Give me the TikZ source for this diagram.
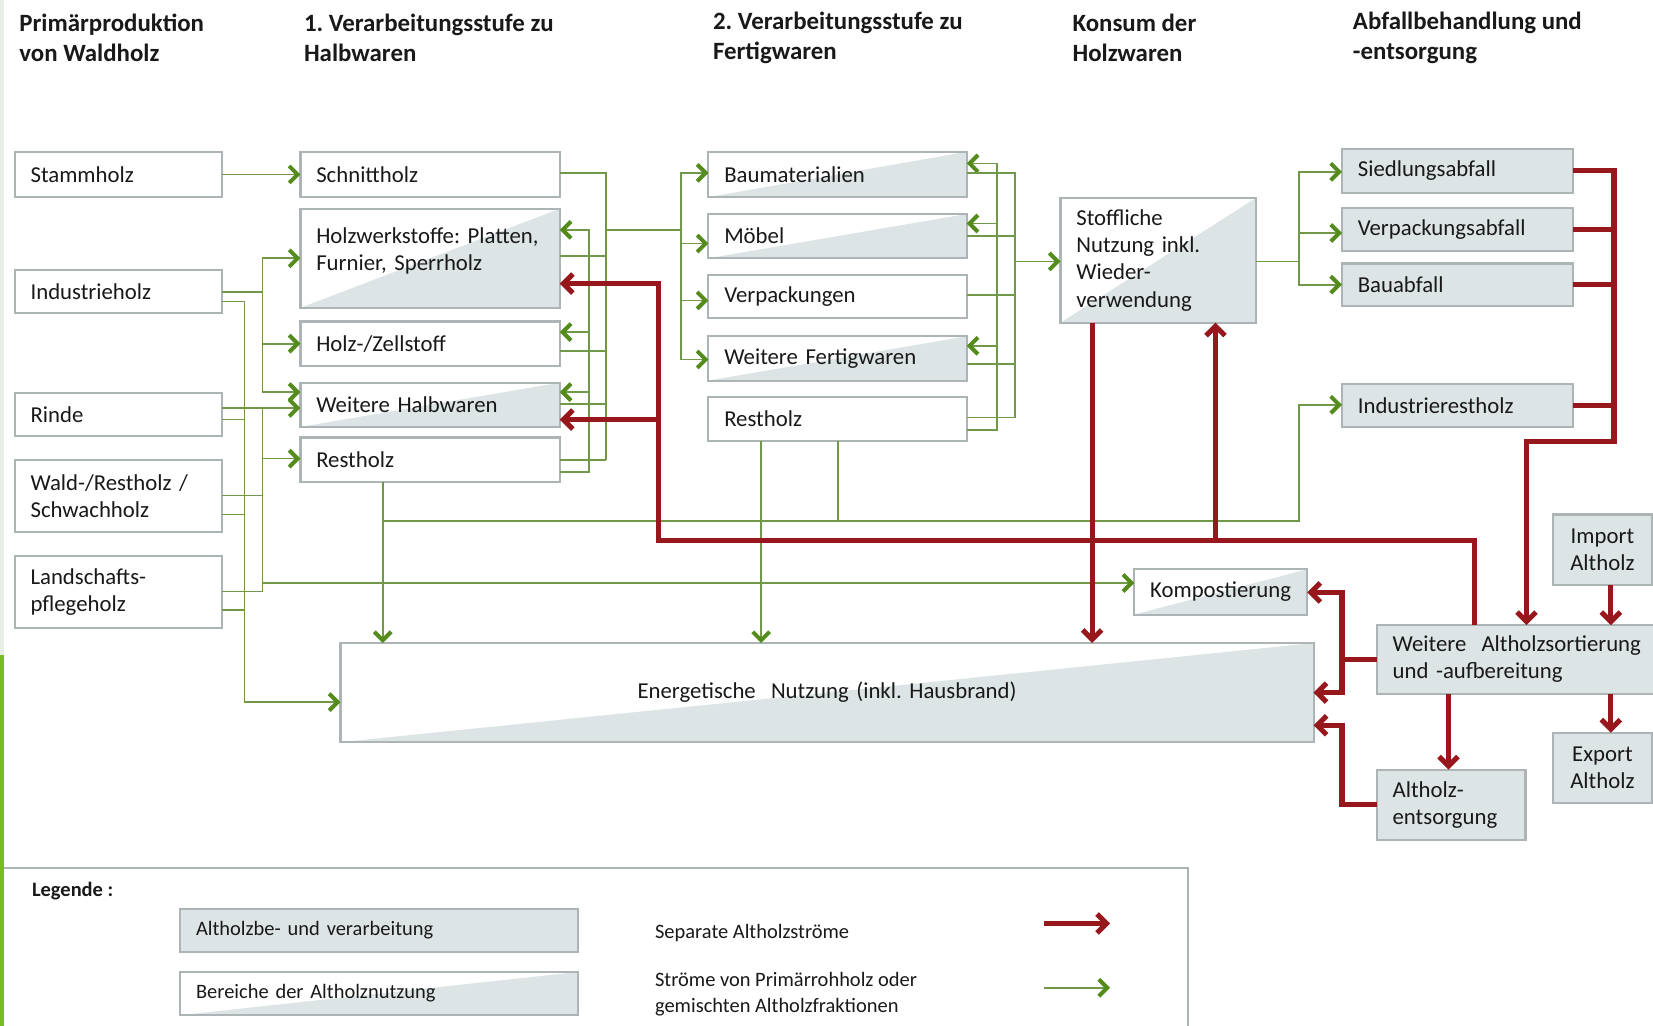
\documentclass[tikz,border=0pt]{standalone}
\usepackage{fontspec}
\setmainfont{Carlito}
\usetikzlibrary{arrows.meta}
\frenchspacing
\definecolor{gline}{RGB}{112,152,72}
\definecolor{ghead}{RGB}{84,140,28}
\definecolor{rline}{RGB}{150,24,28}
\definecolor{boxgrey}{RGB}{221,228,229}
\definecolor{bord}{RGB}{172,180,182}
\definecolor{txt}{RGB}{25,25,25}
\definecolor{limebar}{RGB}{120,190,30}
\definecolor{palebar}{RGB}{232,238,232}
\tikzset{
  base/.style={draw=bord, line width=1pt, fill=white, anchor=north west, align=left,
    inner xsep=7.5pt, inner ysep=2pt, outer sep=0pt, text=txt,
    font=\fontsize{10.8}{12.9}\selectfont},
  greybox/.style={base, fill=boxgrey},
  tribox/.style={base, path picture={\fill[boxgrey] (path picture bounding box.south west)
      -- (path picture bounding box.north east) -- (path picture bounding box.south east) -- cycle;}},
  sz/.style n args={3}{minimum width=#1, text width=#2, minimum height=#3},
  hdr/.style={anchor=west, align=left, inner sep=0pt, text=txt,
    font=\bfseries\fontsize{11.8}{14.5}\selectfont},
  legfont/.style={font=\fontsize{9.7}{12}\selectfont},
  legtext/.style={anchor=west, align=left, inner sep=0pt, text=txt, legfont},
  gl/.style={draw=gline, line width=0.85pt},
  ga/.style={gl, -{Straight Barb[length=4pt,width=8pt,line width=1.9pt,color=ghead]}},
  rl/.style={draw=rline, line width=2.4pt},
  ra/.style={rl, -{Straight Barb[length=4.5pt,width=9pt,line width=2.4pt]}},
}
\begin{document}
\begin{tikzpicture}[x=0.5pt,y=-0.5pt]
\useasboundingbox (0,0) rectangle (1568,973);
\clip (0,0) rectangle (1568,973);
\fill[white] (0,0) rectangle (1568,973);

% headers
\node[hdr] (h1) at (18,36) {Primärproduktion\\von Waldholz};
\node[hdr] (h2) at (288,36) {1. Verarbeitungsstufe zu\\Halbwaren};
\node[hdr] (h3) at (676,36) {2. Verarbeitungsstufe zu\\Fertigwaren};
\node[hdr] (h4) at (1017,36) {Konsum der\\Holzwaren};
\node[hdr] (h5) at (1283,36) {Abfallbehandlung und\\-entsorgung};

% column 1
\node[base, sz={98.5pt}{83.5pt}{21.5pt}] (stamm) at (14,144) {Stammholz};
\node[base, sz={98.5pt}{83.5pt}{20.5pt}] (indus) at (14,256) {Industrieholz};
\node[base, sz={98.5pt}{83.5pt}{20.5pt}] (rinde) at (14,373) {Rinde};
\node[base, sz={98.5pt}{83.5pt}{34.5pt}] (wald) at (14,436) {Wald-/Restholz /\\Schwachholz};
\node[base, sz={98.5pt}{83.5pt}{34.5pt}] (land) at (14,527) {Landschafts-\\pflegeholz};

% column 2
\node[base, sz={123pt}{108pt}{21.5pt}] (schnitt) at (285,144) {Schnittholz};
\node[tribox, sz={123pt}{108pt}{47pt}] (hws) at (285,198) {Holzwerkstoffe: Platten,\\Furnier, Sperrholz\\[-4pt]\mbox{}};
\node[base, sz={123pt}{108pt}{21pt}] (hzs) at (285,305) {Holz-/Zellstoff};
\node[tribox, sz={123pt}{108pt}{21pt}] (whw) at (285,363) {Weitere Halbwaren};
\node[base, sz={123pt}{108pt}{21pt}] (rest1) at (285,415) {Restholz};

% column 3
\node[tribox, sz={122.5pt}{107.5pt}{21.5pt}] (bau) at (672,144) {Baumaterialien};
\node[tribox, sz={122.5pt}{107.5pt}{21pt}] (moebel) at (672,203) {Möbel};
\node[base, sz={122.5pt}{107.5pt}{20.5pt}] (verp) at (672,261) {Verpackungen};
\node[tribox, sz={122.5pt}{107.5pt}{21pt}] (wfw) at (672,319) {Weitere Fertigwaren};
\node[base, sz={122.5pt}{107.5pt}{20.5pt}] (rest2) at (672,377) {Restholz};

% column 4
\node[tribox, sz={92.5pt}{77.5pt}{59pt}] (stoff) at (1006,188) {Stoffliche\\Nutzung inkl.\\Wieder-\\verwendung};

% column 5
\node[greybox, sz={109.5pt}{94.5pt}{21pt}] (sied) at (1273,141) {Siedlungsabfall};
\node[greybox, sz={109.5pt}{94.5pt}{20.5pt}] (vpa) at (1273,197) {Verpackungsabfall};
\node[greybox, sz={109.5pt}{94.5pt}{20pt}] (bauab) at (1273,250) {Bauabfall};
\node[greybox, sz={109.5pt}{94.5pt}{20.5pt}] (irh) at (1273,364) {Industrierestholz};

% lower right
\node[greybox, align=center, inner xsep=2pt, sz={47pt}{43pt}{33.5pt}] (import) at (1473,488) {Import\\Altholz};
\node[greybox, sz={137pt}{122pt}{32.5pt}] (wasort) at (1306,593) {Weitere~~Altholzsortierung\\und -aufbereitung};
\node[greybox, align=center, inner xsep=2pt, sz={47pt}{43pt}{33.5pt}] (export) at (1473,695) {Export\\Altholz};
\node[greybox, sz={70.5pt}{55.5pt}{33.5pt}] (entsorg) at (1306,730) {Altholz-\\entsorgung};
\node[tribox, sz={82pt}{67pt}{21.5pt}] (kompost) at (1076,540) {Kompostierung};
\node[tribox, align=center, sz={461.5pt}{446.5pt}{47pt}] (energ) at (323,610) {\raisebox{-2pt}{Energetische~~Nutzung (inkl. Hausbrand)}};

% ---------- green connectors ----------
\draw[ga] (stamm) -- (schnitt);
\draw[ga] (indus.east |- 0,277) -| (249,245) -- (hws.west |- 0,245);
\draw[ga] (249,277) |- (hzs.west |- 0,326);
\draw[ga] (249,326) |- (whw.west |- 0,372);
\draw[ga] (rinde.east |- 0,387) -- (whw.west |- 0,387);
\draw[gl] (wald.east |- 0,470) -| (249,387);
\draw[gl] (land.east |- 0,561) -| (249,470);
\draw[ga] (249,435) -- (rest1.west |- 0,435);
\draw[ga] (249,553) -- (kompost.west |- 0,553);
\draw[ga] (indus.east |- 0,286) -| (232,666) -- (energ.west |- 0,666);
\draw[gl] (rinde.east |- 0,398) -- (232,398);
\draw[gl] (wald.east |- 0,488) -- (232,488);
\draw[gl] (land.east |- 0,579) -- (232,579);

% col 2 outputs
\draw[gl] (schnitt.east |- 0,164) -| (575,436);
\draw[gl] (hws.east |- 0,243) -- (575,243);
\draw[gl] (hzs.east |- 0,333) -- (575,333);
\draw[gl] (whw.east |- 0,383) -- (575,383);
\draw[gl] (rest1.east |- 0,436) -- (575,436);
\draw[gl] (575,218) -- (646,218);
\draw[ga] (646,218) |- (bau.west |- 0,164);
\draw[ga] (646,218) |- (moebel.west |- 0,231);
\draw[ga] (646,218) |- (verp.west |- 0,285);
\draw[ga] (646,218) |- (wfw.west |- 0,341);
% col 2 return
\draw[ga] (rest1.east |- 0,448) -| (559,218) -- (hws.east |- 0,218);
\draw[ga] (559,315) -- (hzs.east |- 0,315);
\draw[ga] (559,372) -- (whw.east |- 0,372);

% col 3 return
\draw[ga] (rest2.east |- 0,408) -| (946,155) -- (bau.east |- 0,155);
\draw[ga] (946,212) -- (moebel.east |- 0,212);
\draw[ga] (946,328) -- (wfw.east |- 0,328);
% col 3 outputs
\draw[gl] (bau.east |- 0,164) -| (963,396) -- (rest2.east |- 0,396);
\draw[gl] (moebel.east |- 0,224) -- (963,224);
\draw[gl] (verp.east |- 0,280) -- (963,280);
\draw[gl] (wfw.east |- 0,345) -- (963,345);
\draw[ga] (963,248) -- (stoff.west |- 0,248);

% stoff -> col 5
\draw[gl] (stoff.east |- 0,248) -- (1232,248);
\draw[ga] (1232,248) |- (sied.west |- 0,163);
\draw[ga] (1232,248) |- (vpa.west |- 0,221);
\draw[ga] (1232,248) |- (bauab.west |- 0,270);

% lower green
\draw[ga] (rest1.south -| 363,0) -- (energ.north -| 363,0);
\draw[ga] (363,494) -| (1232,384) -- (irh.west |- 0,384);
\draw[gl] (rest2.south -| 795,0) -- (795,494);
\draw[ga] (rest2.south -| 722,0) -- (energ.north -| 722,0);

% ---------- red connectors ----------
\draw[ra] (wasort.north -| 1399,0) |- (625,513) |- (hws.east |- 0,269);
\draw[ra] (625,398) -- (whw.east |- 0,398);
\draw[ra] (1153,513) -- (stoff.south -| 1153,0);
\draw[ra] (stoff.south -| 1036,0) -- (energ.north -| 1036,0);
\draw[ra] (sied.east) -| (1531,419) -| (wasort.north -| 1448,0);
\draw[rl] (vpa.east) -- (vpa.east -| 1531,0);
\draw[rl] (bauab.east) -- (bauab.east -| 1531,0);
\draw[rl] (irh.east) -- (irh.east -| 1531,0);
\draw[ra] (import.south -| 1528,0) -- (wasort.north -| 1528,0);
\draw[ra] (wasort.south -| 1528,0) -- (export.north -| 1528,0);
\draw[ra] (wasort.south -| 1374,0) -- (entsorg.north -| 1374,0);
\draw[ra] (wasort.west) -| (1273,562) -- (kompost.east |- 0,562);
\draw[ra] (1273,625) |- (energ.east |- 0,657);
\draw[ra] (entsorg.west) -| (1273,688) -- (energ.east |- 0,688);

% ---------- legend ----------
\draw[bord, line width=1pt] (2,1000) -- (2,823) -- (1127,823) -- (1127,1000);
\node[legtext, font=\bfseries\fontsize{9.7}{12}\selectfont] (legt) at (30,845) {Legende :};
\node[greybox, legfont, sz={188.5pt}{173.5pt}{20.5pt}] (lg1) at (171,862) {Altholzbe- und verarbeitung};
\node[tribox, legfont, sz={188.5pt}{173.5pt}{20.5pt}] (lg2) at (171,922) {Bereiche der Altholznutzung};
\node[legtext] (lt1) at (621,885) {Separate Altholzströme};
\node[legtext] (lt2) at (621,943) {Ströme von Primärrohholz oder\\gemischten Altholzfraktionen};
\coordinate (lr1) at (990,876);
\coordinate (lr2) at (1053,876);
\coordinate (lg1a) at (990,937);
\coordinate (lg2a) at (1053,937);
\draw[ra] (lr1) -- (lr2);
\draw[ga] (lg1a) -- (lg2a);

% left edge strips
\fill[palebar] (0,0) rectangle (4,621);
\fill[limebar] (0,621) rectangle (4,973);
\end{tikzpicture}
\end{document}
